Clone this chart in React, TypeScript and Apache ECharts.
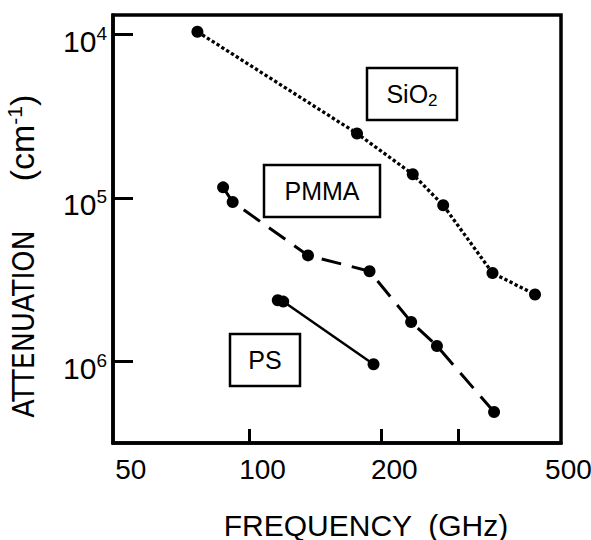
import React, { useEffect, useRef } from "react";
import * as echarts from "echarts";

// Frequency (GHz) and attenuation (cm^-1)
const sio2Freq = [76, 176, 236, 277, 359, 449];
const sio2Atten = [9640, 40400, 71700, 111000, 288000, 390000];

const pmmaFreq = [87, 91.5, 136, 188, 234, 268, 362];
const pmmaAtten = [86300, 106000, 225000, 281000, 574000, 805000, 2040000];

const psFreq = [116, 119.4, 192];
const psAtten = [423000, 431000, 1042000];

const xTickValues = [100, 200, 300];
const xLabelValues = [50, 100, 200, 500];
const yTickValues = [10000, 100000, 1000000];

const FONT = "Liberation Sans, Arial, sans-serif";
const NARROW = '"Liberation Sans Narrow", "Arial Narrow", "DejaVu Sans Condensed", "Liberation Sans", sans-serif';

function pairs(xs: number[], ys: number[]) {
  return xs.map((x, i) => [x, ys[i]]);
}

export default function App() {
  const ref = useRef<HTMLDivElement>(null);

  useEffect(() => {
    if (!ref.current) return;
    const chart = echarts.init(ref.current, null, { renderer: "svg" });

    const seriesBase = {
      type: "line" as const,
      symbol: "circle",
      symbolSize: 12,
      itemStyle: { color: "#000" },
      z: 5,
    };

    chart.setOption({
      animation: false,
      backgroundColor: "#fff",
      grid: {
        left: 113,
        top: 15,
        right: 30,
        bottom: 97,
        containLabel: false,
        outerBoundsMode: "none",
        show: true,
        borderColor: "#000",
        borderWidth: 3.5,
      },
      xAxis: {
        type: "log",
        logBase: 10,
        min: 48.75,
        max: 514.8,
        axisLine: { show: true, lineStyle: { color: "#000", width: 3.5 } },
        axisTick: {
          show: true,
          inside: true,
          length: 14,
          customValues: xTickValues,
          lineStyle: { color: "#000", width: 3 },
        },
        axisLabel: {
          customValues: xLabelValues,
          color: "#000",
          fontSize: 28,
          fontFamily: FONT,
          margin: 12,
          padding: [0, 0, 0, 26],
          hideOverlap: false,
          formatter: (v: number) => String(Math.round(v)),
        },
        splitLine: { show: false },
        minorTick: { show: false },
      },
      yAxis: {
        type: "log",
        logBase: 10,
        inverse: true,
        min: 7620,
        max: 3157000,
        axisLine: { show: true, lineStyle: { color: "#000", width: 3.5 } },
        axisTick: {
          show: true,
          inside: true,
          length: 20,
          customValues: yTickValues,
          lineStyle: { color: "#000", width: 3 },
        },
        axisLabel: {
          customValues: yTickValues,
          color: "#000",
          fontSize: 30,
          fontFamily: FONT,
          margin: 6,
          padding: [14, 0, 0, 0],
          formatter: (v: number) => `10{sup|${Math.round(Math.log10(v))}}`,
          rich: {
            sup: {
              fontSize: 19,
              fontFamily: FONT,
              color: "#000",
              padding: [0, 0, 16, 0],
            },
          },
        },
        splitLine: { show: false },
        minorTick: { show: false },
      },
      series: [
        {
          ...seriesBase,
          name: "SiO2",
          data: pairs(sio2Freq, sio2Atten),
          lineStyle: { color: "#000", width: 3.3, type: [3.3, 2.4], cap: "butt" },
        },
        {
          ...seriesBase,
          name: "PMMA",
          data: pairs(pmmaFreq, pmmaAtten),
          lineStyle: { color: "#000", width: 3, type: [20, 11], cap: "butt" },
        },
        {
          ...seriesBase,
          name: "PS",
          data: pairs(psFreq, psAtten),
          lineStyle: { color: "#000", width: 2.5, type: "solid" },
        },
      ],
      graphic: [
        {
          type: "rect",
          shape: { x: 367, y: 68, width: 90, height: 52 },
          style: { fill: "#fff", stroke: "#000", lineWidth: 2.5 },
          z: 10,
        },
        {
          type: "text",
          x: 412,
          y: 94,
          style: {
            text: "SiO{sub|2}",
            font: `25px ${FONT}`,
            fill: "#000",
            align: "center",
            verticalAlign: "middle",
            rich: {
              sub: { fontSize: 17, fontFamily: FONT, fill: "#000", padding: [12, 0, 0, 0] },
            },
          },
          z: 11,
        },
        {
          type: "rect",
          shape: { x: 264, y: 165, width: 116, height: 52 },
          style: { fill: "#fff", stroke: "#000", lineWidth: 2.5 },
          z: 10,
        },
        {
          type: "text",
          x: 322,
          y: 191,
          style: {
            text: "PMMA",
            font: `25px ${FONT}`,
            fill: "#000",
            align: "center",
            verticalAlign: "middle",
          },
          z: 11,
        },
        {
          type: "rect",
          shape: { x: 230, y: 334, width: 70, height: 52 },
          style: { fill: "#fff", stroke: "#000", lineWidth: 2.5 },
          z: 10,
        },
        {
          type: "text",
          x: 265,
          y: 360,
          style: {
            text: "PS",
            font: `25px ${FONT}`,
            fill: "#000",
            align: "center",
            verticalAlign: "middle",
          },
          z: 11,
        },
        {
          type: "text",
          x: 366,
          y: 525,
          style: {
            text: "FREQUENCY  (GHz)",
            font: `30px ${FONT}`,
            fill: "#000",
            align: "center",
            verticalAlign: "middle",
          },
        },
        {
          type: "text",
          x: 23,
          y: 324,
          rotation: Math.PI / 2,
          style: {
            text: "ATTENUATION",
            font: `30px ${NARROW}`,
            fill: "#000",
            align: "center",
            verticalAlign: "middle",
          },
        },
        {
          type: "text",
          x: 22,
          y: 138,
          rotation: Math.PI / 2,
          style: {
            text: "(cm{sup|-1})",
            font: `34px ${FONT}`,
            fill: "#000",
            align: "center",
            verticalAlign: "middle",
            rich: {
              sup: { fontSize: 21, fontFamily: FONT, fill: "#000", padding: [0, 0, 15, 0] },
            },
          },
        },
      ],
    });

    return () => chart.dispose();
  }, []);

  return <div ref={ref} style={{ width: 591, height: 540, position: "absolute", left: 0, top: 0 }} />;
}
